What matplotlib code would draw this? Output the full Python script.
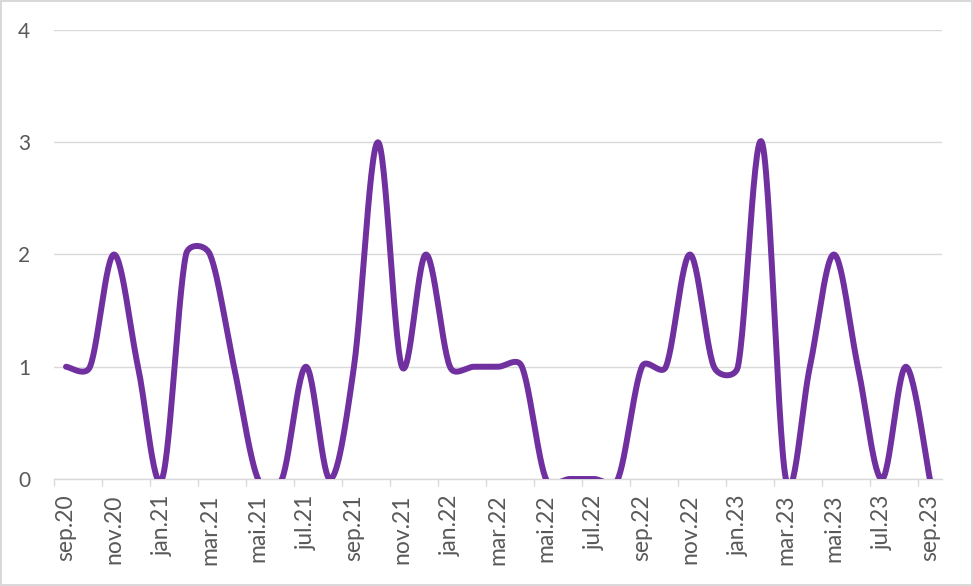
import numpy as np
import matplotlib.pyplot as plt

months = ['sep.20', 'okt.20', 'nov.20', 'des.20', 'jan.21', 'feb.21', 'mar.21', 'apr.21',
          'mai.21', 'jun.21', 'jul.21', 'aug.21', 'sep.21', 'okt.21', 'nov.21', 'des.21',
          'jan.22', 'feb.22', 'mar.22', 'apr.22', 'mai.22', 'jun.22', 'jul.22', 'aug.22',
          'sep.22', 'okt.22', 'nov.22', 'des.22', 'jan.23', 'feb.23', 'mar.23', 'apr.23',
          'mai.23', 'jun.23', 'jul.23', 'aug.23', 'sep.23']
values = [1, 1, 2, 1, 0, 2, 2, 1,
          0, 0, 1, 0, 1, 3, 1, 2,
          1, 1, 1, 1, 0, 0, 0, 0,
          1, 1, 2, 1, 1, 3, 0, 1,
          2, 1, 0, 1, 0]
yticks = [0, 1, 2, 3, 4]


def excel_smooth(xs, ys, sx, sy, n=30):
    # bezier smoothing like excel's "smoothed line", done in pixel space
    P = np.column_stack([np.asarray(xs, float) * sx, np.asarray(ys, float) * sy])
    P = np.vstack([P[0], P, P[-1]])
    out = []
    t = np.linspace(0, 1, n)[:, None]
    for i in range(1, len(P) - 2):
        p0, p1, p2, p3 = P[i - 1], P[i], P[i + 1], P[i + 2]
        d02 = np.hypot(*(p2 - p0))
        d12 = np.hypot(*(p2 - p1))
        d13 = np.hypot(*(p3 - p1))
        f0 = 1 / 6 if d02 / 6 < d12 / 2 else d12 / d02 / 2
        f1 = 1 / 6 if d13 / 6 < d12 / 2 else d12 / d13 / 2
        b1 = p1 + (p2 - p0) * f0
        b2 = p2 + (p1 - p3) * f1
        seg = (1 - t) ** 3 * p1 + 3 * (1 - t) ** 2 * t * b1 + 3 * (1 - t) * t ** 2 * b2 + t ** 3 * p2
        out.append(seg if i == 1 else seg[1:])
    out = np.vstack(out)
    return out[:, 0] / sx, out[:, 1] / sy


fig = plt.figure(figsize=(9.73, 5.86), dpi=100)
fig.patch.set_edgecolor('#d9d9d9')
fig.patch.set_linewidth(1.5)
ax = fig.add_axes([0.0555, 0.1826, 0.9125, 0.7662])

x = np.arange(len(values))
w_px = 0.9125 * 973
h_px = 0.7662 * 586
sx, sy = excel_smooth(x, values, w_px / len(values), h_px / 4)
ax.plot(sx, sy, color='#7030A0', lw=4.3, solid_capstyle='round', solid_joinstyle='round', zorder=3)

ax.set_xlim(-0.5, len(values) - 0.5)
ax.set_ylim(0, 4)
ax.set_yticks(yticks)
ax.set_yticklabels([str(v) for v in yticks])
ax.grid(axis='y', color='#d9d9d9', lw=1)
ax.set_axisbelow(True)

ax.set_xticks(x[::2])
ax.set_xticklabels(months[::2], rotation=90)
ax.set_xticks(np.arange(-0.5, len(values) - 1, 2), minor=True)
ax.tick_params(axis='x', which='major', length=0, pad=11)
ax.tick_params(axis='x', which='minor', length=5, color='#d9d9d9', width=1)
ax.tick_params(axis='y', length=0, pad=17)
for lab in ax.get_xticklabels():
    lab.set_fontfamily('Lato')
    lab.set_fontsize(16.5)
    lab.set_color('#595959')
for lab in ax.get_yticklabels():
    lab.set_fontfamily('Lato')
    lab.set_fontsize(15)
    lab.set_color('#595959')

for s in ['top', 'right', 'left']:
    ax.spines[s].set_visible(False)
ax.spines['bottom'].set_color('#d9d9d9')
ax.spines['bottom'].set_linewidth(1)

fig.savefig('out.png', dpi=100, edgecolor=fig.get_edgecolor())
